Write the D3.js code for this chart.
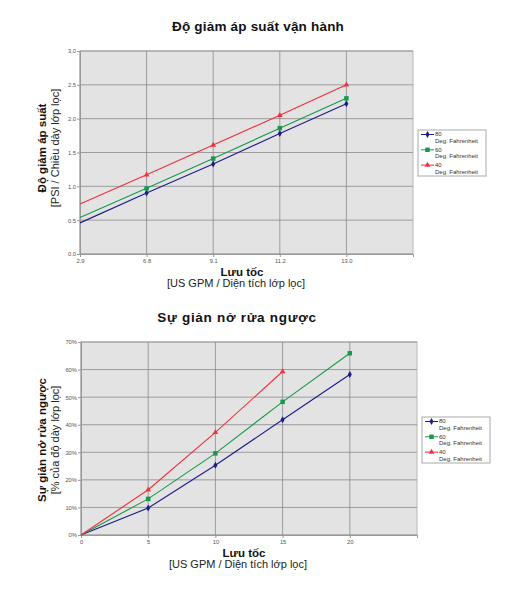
<!DOCTYPE html>
<html>
<head>
<meta charset="utf-8">
<script src="https://cdn.jsdelivr.net/npm/d3@7"></script>
<style>
  html, body { margin: 0; padding: 0; background: #fff; }
  svg { display: block; font-family: "Liberation Sans", Arial, sans-serif; }
</style>
</head>
<body>
<svg id="chart" width="513" height="608"></svg>
<script>
// top chart: pressure drop
const flowCats = ["2.9", "6.8", "9.1", "11.2", "13.0"];
const dropTicks = [0, 0.5, 1.0, 1.5, 2.0, 2.5, 3.0];
const drop80 = [0.46, 0.90, 1.33, 1.78, 2.22];
const drop60 = [0.54, 0.97, 1.41, 1.86, 2.30];
const drop40 = [0.74, 1.17, 1.61, 2.05, 2.50];

// bottom chart: backwash expansion
const washFlow = [0, 5, 10, 15, 20];
const washTicks = [0, 10, 20, 30, 40, 50, 60, 70];
const wash80 = [0, 9.8, 25.3, 41.8, 58.2];
const wash60 = [0, 13.1, 29.6, 48.3, 65.9];
const wash40 = [0, 16.4, 37.2, 59.3];

const seriesNames = ["80", "60", "40"];
const legendSub = "Deg. Fahrenheit";
const COLORS = ["#1c1c8a", "#17994a", "#f0303e"];
const SHAPES = [d3.symbolDiamond, d3.symbolSquare, d3.symbolTriangle];
const SIZES = [14, 20, 14];

const svg = d3.select("#chart");

function drawChart(o) {
  const g = svg.append("g");
  const y = o.y;
  const [x0, x1] = o.xAxisScale.range();
  const [y0, y1] = y.range();

  // plot background
  g.append("rect").attr("x", x0).attr("y", y1).attr("width", x1 - x0).attr("height", y0 - y1)
    .attr("fill", "#e3e3e3").attr("stroke", "#b8b8b8");

  // grid
  g.selectAll(".hg").data(o.yTicks).join("line")
    .attr("x1", x0).attr("x2", x1).attr("y1", d => y(d)).attr("y2", d => y(d))
    .attr("stroke", "#8a8a8a").attr("stroke-width", 0.8);
  g.selectAll(".vg").data(o.xTicks).join("line")
    .attr("x1", d => o.xPos(d)).attr("x2", d => o.xPos(d)).attr("y1", y1).attr("y2", y0)
    .attr("stroke", "#8a8a8a").attr("stroke-width", 0.8);

  // axes
  const ya = g.append("g").attr("transform", `translate(${x0},0)`)
    .call(d3.axisLeft(y).tickValues(o.yTicks).tickFormat(o.yFmt).tickSize(3).tickPadding(1));
  const xa = g.append("g").attr("transform", `translate(0,${y0})`)
    .call(d3.axisBottom(o.xAxisScale).tickValues(o.xTicks).tickFormat(o.xFmt).tickSize(3).tickPadding(2));
  for (const a of [ya, xa]) {
    a.select(".domain").attr("stroke", "#999");
    a.selectAll(".tick line").attr("stroke", "#999");
    a.selectAll(".tick text").attr("fill", "#555").style("font-size", "5.8px");
  }

  // series
  o.series.forEach((vals, i) => {
    const pts = vals.map((v, j) => [o.xPos(o.xTicks[j]), y(v)]);
    g.append("path").attr("d", d3.line()(pts)).attr("fill", "none")
      .attr("stroke", COLORS[i]).attr("stroke-width", 1.1);
    g.selectAll(null).data(pts.slice(1)).join("path")
      .attr("transform", d => `translate(${d[0]},${d[1]})`)
      .attr("d", d3.symbol(SHAPES[i], SIZES[i]))
      .attr("fill", COLORS[i]);
  });

  // titles
  g.append("text").attr("x", o.titleX).attr("y", o.titleY).attr("text-anchor", "middle")
    .style("font-size", "13.5px").style("font-weight", "bold").style("letter-spacing", o.titleSpacing)
    .attr("fill", "#111").text(o.title);
  const yt = g.append("g").attr("transform", `translate(${o.yTitleX},${o.yTitleY}) rotate(-90)`);
  yt.append("text").attr("text-anchor", "middle").attr("y", 0)
    .style("font-size", "11.5px").style("font-weight", "bold").attr("fill", "#111").text(o.yTitle);
  yt.append("text").attr("text-anchor", "middle").attr("y", 13)
    .style("font-size", "11px").attr("fill", "#222").text(o.yUnit);
  g.append("text").attr("x", o.xTitleX).attr("y", o.xTitleY).attr("text-anchor", "middle")
    .style("font-size", "11.5px").style("font-weight", "bold").attr("fill", "#111").text(o.xTitle);
  g.append("text").attr("x", o.xTitleX - 6).attr("y", o.xTitleY + 11).attr("text-anchor", "middle")
    .style("font-size", "11px").attr("fill", "#222").text(o.xUnit);

  // legend
  const lg = g.append("g").attr("transform", `translate(${o.legX},${o.legY})`);
  lg.append("rect").attr("width", 68).attr("height", 46).attr("fill", "#fff").attr("stroke", "#aaa");
  seriesNames.forEach((n, i) => {
    const row = lg.append("g").attr("transform", `translate(0,${4 + i * 15.3})`);
    row.append("line").attr("x1", 3).attr("x2", 16).attr("y1", 0.5).attr("y2", 0.5)
      .attr("stroke", COLORS[i]).attr("stroke-width", 1);
    row.append("path").attr("transform", "translate(9.5,0.5)")
      .attr("d", d3.symbol(SHAPES[i], SIZES[i])).attr("fill", COLORS[i]);
    row.append("text").attr("x", 17).attr("y", 2.2).style("font-size", "6px").attr("fill", "#333").text(n);
    row.append("text").attr("x", 17).attr("y", 9).style("font-size", "6px").attr("fill", "#333").text(legendSub);
  });
}

// top chart: category axis with one empty slot on the right
const xTopAxis = d3.scalePoint().domain(flowCats.concat([""])).range([80, 413]);
drawChart({
  y: d3.scaleLinear().domain([0, 3]).range([254, 51]),
  xAxisScale: xTopAxis,
  xTicks: flowCats,
  xPos: d => xTopAxis(d),
  xFmt: d => d,
  yTicks: dropTicks,
  yFmt: d3.format(".1f"),
  series: [drop80, drop60, drop40],
  title: "Độ giảm áp suất vận hành", titleX: 258, titleY: 31, titleSpacing: "0.2px",
  yTitle: "Độ giảm áp suất", yUnit: "[PSI / Chiều dày lớp lọc]", yTitleX: 46, yTitleY: 148,
  xTitle: "Lưu tốc", xUnit: "[US GPM / Diện tích lớp lọc]", xTitleX: 242, xTitleY: 276,
  legX: 418, legY: 130
});

// bottom chart
const xBot = d3.scaleLinear().domain([0, 25]).range([81, 417]);
drawChart({
  y: d3.scaleLinear().domain([0, 70]).range([535, 342]),
  xAxisScale: xBot,
  xTicks: washFlow,
  xPos: d => xBot(d),
  xFmt: d3.format("d"),
  yTicks: washTicks,
  yFmt: d => d + "%",
  series: [wash80, wash60, wash40],
  title: "Sự giản nở rửa ngược", titleX: 237, titleY: 322, titleSpacing: "0.7px",
  yTitle: "Sự giản nở rửa ngược", yUnit: "[% của độ dày lớp lọc]", yTitleX: 46, yTitleY: 440,
  xTitle: "Lưu tốc", xUnit: "[US GPM / Diện tích lớp lọc]", xTitleX: 244, xTitleY: 557,
  legX: 422, legY: 417
});
</script>
</body>
</html>
